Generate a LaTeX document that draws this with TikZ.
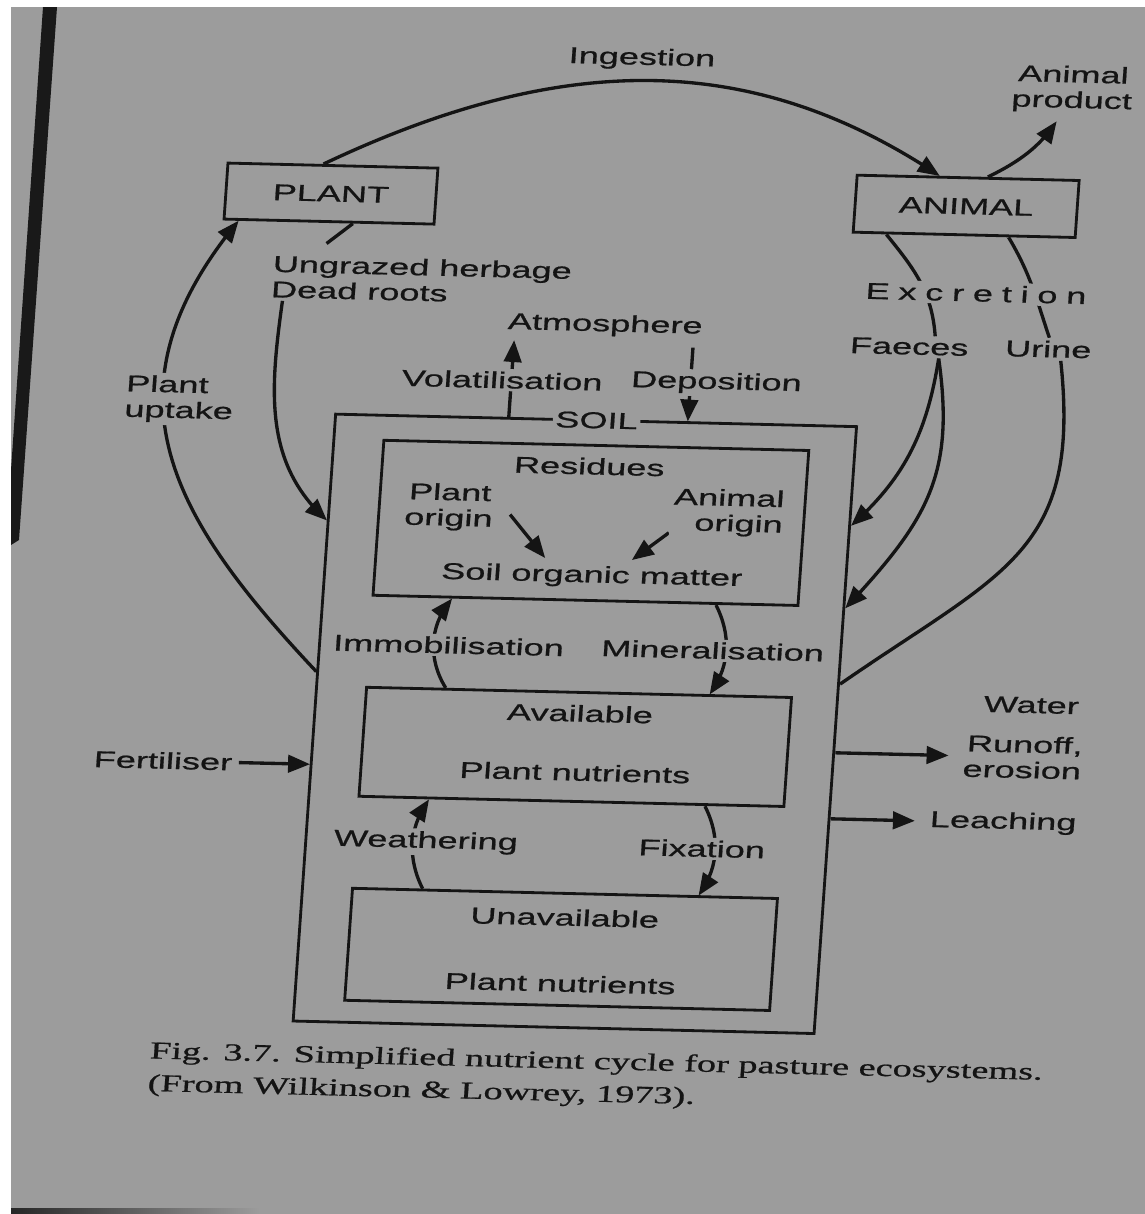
\documentclass[tikz,border=0pt]{standalone}
\usepackage{fontspec}
\setmainfont[FakeStretch=1.58,FakeBold=0.8]{Liberation Serif}
\setsansfont[FakeStretch=1.58,FakeBold=0.8]{Liberation Sans}
\usetikzlibrary{arrows}
\definecolor{paper}{RGB}{156,156,156}
\definecolor{ink}{RGB}{20,20,20}
\pgfdeclarelayer{sheet}
\pgfdeclarelayer{links}
\pgfsetlayers{sheet,links,main}

\begin{document}
\begin{tikzpicture}[x=0.02cm,y=-0.02cm,
    >=triangle 45, line width=1.8pt, ink,
    link/.style={line width=1.9pt,color=ink},
    box/.style={draw=ink,line width=1.6pt,inner sep=0pt},
    txt/.style={font=\sffamily\fontsize{13}{14.5}\selectfont,text=ink,fill=paper,inner sep=1.5pt,align=center},
    figcap/.style={font=\rmfamily\fontsize{13.8}{18.5}\selectfont,text=ink,inner sep=0pt,align=left}]
  \useasboundingbox (0,0) rectangle (1145,1214);

  \begin{pgfonlayer}{sheet}
  % the photographed page
  \fill[white] (0,0) rectangle (1145,1214);
  \fill[paper] (11,7) rectangle (1145,1214);
  \fill[black!90] (43,7) -- (57,7) -- (19,540) -- (11,545) -- (11,470) -- cycle;
  \shade[left color=black!85,right color=paper] (11,1208) rectangle (260,1214);
  \end{pgfonlayer}

  \begin{scope}[cm={1,-0.024,0.07,1,(0.84cm,0.2736cm)},transform shape]

  % compartments
  \node[box,minimum width=4.2cm,minimum height=1.12cm,txt] (plant) at (303,200) {PLANT};
  \node[box,minimum width=4.44cm,minimum height=1.14cm,txt] (animal) at (938,197.5) {ANIMAL};
  \node[box,minimum width=10.42cm,minimum height=12.14cm] (soil) at (583.5,723.5) {};
  \node[box,minimum width=8.5cm,minimum height=3.1cm] (residues) at (585.5,522.5) {};
  \node[box,minimum width=8.5cm,minimum height=2.18cm] (avail) at (585.5,746.5) {};
  \node[box,minimum width=8.5cm,minimum height=2.24cm] (unavail) at (585.5,949) {};

  % labels
  \node[txt] (ingest) at (604,58) {Ingestion};
  \node[txt] (product) at (1036,78) {Animal\\product};
  \node[txt,anchor=west,align=left] (herbage) at (247,284) {Ungrazed herbage\\Dead roots};
  \node[txt,anchor=west,align=left] (uptake) at (109,409) {Plant\\uptake};
  \node[txt] (atmos) at (586,325) {Atmosphere};
  \node[txt] (vol) at (487,382) {Volatilisation};
  \node[txt] (dep) at (701,380) {Deposition};
  \node[txt] (soillbl) at (584,420) {SOIL};
  \node[txt] (resid) at (580,466) {Residues};
  \node[txt] (porigin) at (443,510) {Plant\\origin};
  \node[txt,align=right] (aorigin) at (722,509) {Animal\\origin};
  \node[txt] (som) at (590,576) {Soil organic matter};
  \node[txt] (immo) at (452,648) {Immobilisation};
  \node[txt] (mine) at (716,647) {Mineralisation};
  \node[txt] (availtop) at (588,713) {Available};
  \node[txt] (availbot) at (587,772) {Plant nutrients};
  \node[txt] (weath) at (443,845) {Weathering};
  \node[txt] (fix) at (719,845) {Fixation};
  \node[txt] (unavtop) at (587,917) {Unavailable};
  \node[txt] (unavbot) at (587,983) {Plant nutrients};
  \node[txt] (fert) at (175,770) {Fertiliser};
  \node[txt] (water) at (1038,694) {Water};
  \node[txt,align=right] (runoff) at (1033,746) {Runoff,\\erosion};
  \node[txt] (leach) at (1018,812) {Leaching};
  \node[txt] (excr) at (954,284) {E\kern5pt x\kern5pt c\kern5pt r\kern5pt e\kern5pt t\kern5pt i\kern5pt o\kern5pt n};
  \node[txt] (faeces) at (891,339) {Faeces};
  \node[txt] (urine) at (1030,338) {Urine};
  \coordinate (atmoleft) at (496,342);
  \coordinate (atmoright) at (675,345);

  \node[figcap,anchor=west] (caption) at (182,1078) {Fig. 3.7. Simplified nutrient cycle for pasture ecosystems.\\(From Wilkinson \& Lowrey, 1973).};

  \begin{pgfonlayer}{links}
  \begin{scope}[link]
  % plant and animal
  \draw[->] (plant.108) .. controls (528,50) and (715,50) .. (animal.134);
  \draw[->,shorten >=1.5mm] (animal.57) to[bend right=15] ([xshift=-2mm]product.south);
  \draw (plant.-51) -- ([xshift=11mm,yshift=2mm]herbage.north west);
  \draw[->] ([xshift=3mm]herbage.south west) to[out=-94,in=139] (soil.143);
  \draw[->] (soil.170) to[out=136,in=-126,looseness=1.2] (plant.198);

  % excretion
  \draw (animal.201) to[out=-48,in=98] ([xshift=5mm]faeces.north);
  \draw (animal.-34) to[out=-56,in=112] (urine.north);
  \draw[->] ([xshift=6mm]faeces.south) to[out=-95,in=45] (soil.38);
  \draw[->] ([xshift=6mm]faeces.south) to[out=-78,in=50,looseness=1.15] (soil.25);
  \draw ([xshift=2.6mm]urine.south) to[out=-80,in=37,looseness=1.3] (soil.10);

  % atmosphere
  \draw[->] (soil.north -| atmoleft) -- (atmoleft);
  \draw[->] (atmoright) -- (soil.north -| atmoright);

  % inside the soil
  \draw[->] ([xshift=2.8mm,yshift=-1.2mm]porigin.east) -- ([xshift=-9.6mm,yshift=0.8mm]som.north);
  \draw[->] ([yshift=1mm]aorigin.south west) -- ([xshift=7.8mm,yshift=0.8mm]som.north);
  \draw[->] (avail.north -| immo) to[bend left=35] (residues.south -| immo);
  \draw[->] (residues.south -| mine) to[bend left=30] (avail.north -| mine);
  \draw[->] (unavail.north -| weath) to[bend left=30] (avail.south -| weath);
  \draw[->] (avail.south -| fix) to[bend left=30] (unavail.north -| fix);

  % inputs and losses
  \draw[->,shorten <=2pt] (fert) -- (soil.west |- fert);
  \draw[->,shorten >=2.5mm] (soil.east |- runoff) -- (runoff.west);
  \draw[->,shorten >=2.5mm] (soil.east |- leach) -- (leach.west);
  \end{scope}
  \end{pgfonlayer}

  \end{scope}
\end{tikzpicture}
\end{document}
